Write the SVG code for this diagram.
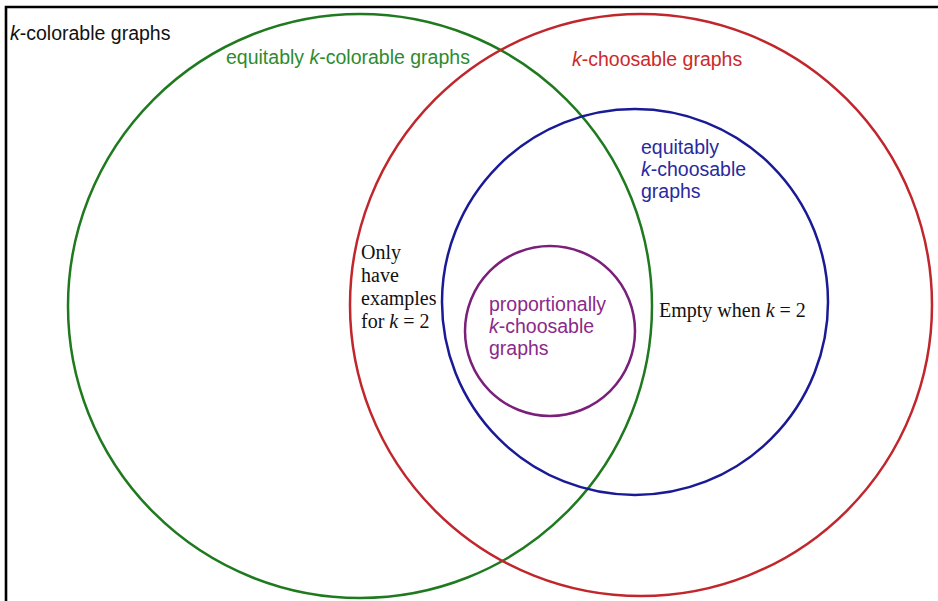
<svg xmlns="http://www.w3.org/2000/svg" width="938" height="601" viewBox="0 0 938 601">
<style>
.c{fill:none;stroke-width:2.5}
.s{font-family:"Liberation Sans",Arial,sans-serif;font-size:19.5px}
.t{font-family:"Liberation Serif","Times New Roman",serif;font-size:20px;fill:#111}
</style>
<rect width="938" height="601" fill="#fff"/>
<g id="frame"><path d="M6,601 V7 H938" fill="none" stroke="#000" stroke-width="2.6"/></g>
<g id="colorable"><text class="s" x="10" y="40" fill="#111"><tspan font-style="italic">k</tspan>-colorable graphs</text></g>
<g id="equitably-colorable">
<circle class="c" cx="360" cy="306" r="292" stroke="#1f7a1f"/>
<text class="s" x="226" y="64" fill="#2e8b2e">equitably <tspan font-style="italic">k</tspan>-colorable graphs</text>
</g>
<g id="choosable">
<circle class="c" cx="641" cy="305" r="291" stroke="#c0262b"/>
<text class="s" x="572" y="66" fill="#cc2a2a"><tspan font-style="italic">k</tspan>-choosable graphs</text>
</g>
<g id="equitably-choosable">
<circle class="c" cx="635" cy="302" r="193" stroke="#1a1a96"/>
<text class="s" fill="#2a2aa0"><tspan x="641" y="154">equitably</tspan><tspan x="641" y="176"><tspan font-style="italic">k</tspan>-choosable</tspan><tspan x="641" y="198">graphs</tspan></text>
</g>
<g id="proportionally-choosable">
<circle class="c" cx="550" cy="331" r="85" stroke="#7a1f7a"/>
<text class="s" fill="#8a2a8a"><tspan x="489" y="311">proportionally</tspan><tspan x="489" y="333"><tspan font-style="italic">k</tspan>-choosable</tspan><tspan x="489" y="355">graphs</tspan></text>
</g>
<g id="note-only">
<text class="t"><tspan x="361" y="259">Only</tspan><tspan x="361" y="282">have</tspan><tspan x="361" y="305">examples</tspan><tspan x="361" y="328">for <tspan font-style="italic">k</tspan> = 2</tspan></text>
</g>
<g id="note-empty">
<text class="t" x="659" y="317">Empty when <tspan font-style="italic">k</tspan> = 2</text>
</g>
<g id="connectors"></g>
</svg>
